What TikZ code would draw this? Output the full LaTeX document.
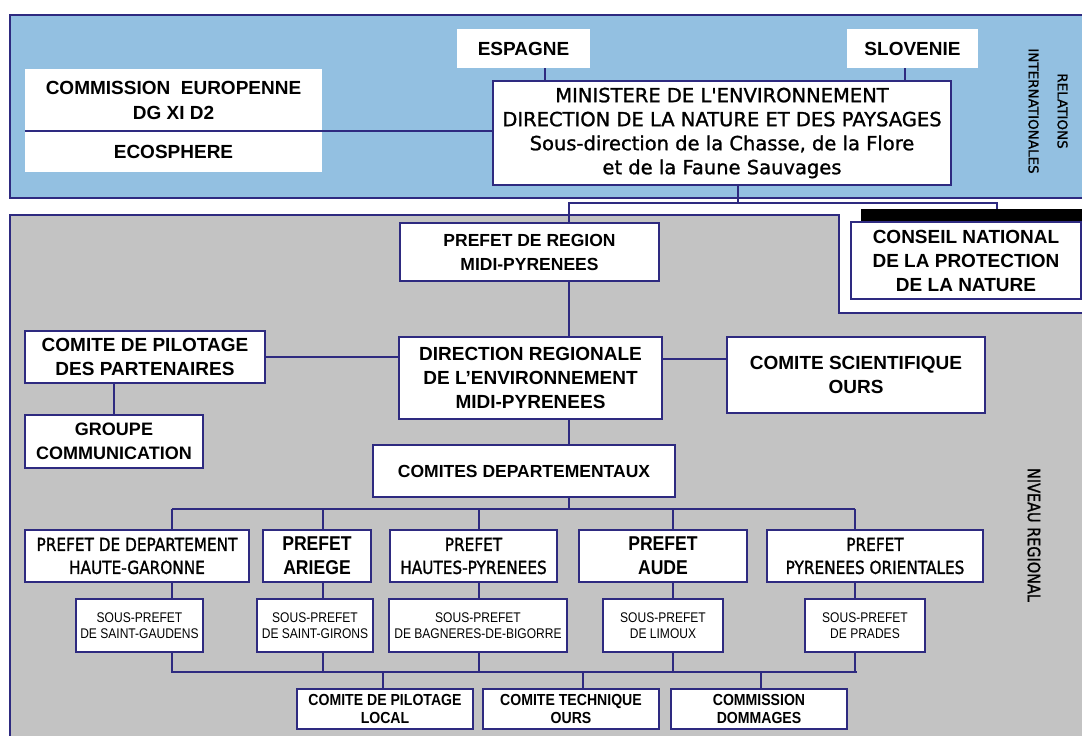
\documentclass[tikz,border=0pt]{standalone}
\usepackage{fontspec}
\setmainfont{Liberation Sans}
\newfontfamily\hum{DejaVu Sans}[FakeBold=1.2]
\newfontfamily\humc{DejaVu Sans}[FakeStretch=0.85,FakeBold=1.2]
\newfontfamily\arialc{Liberation Sans}[FakeStretch=0.86]
\newfontfamily\arialbc{Liberation Sans Bold}[FakeStretch=0.88]
\usetikzlibrary{calc}
\definecolor{navy}{HTML}{2E2A80}
\definecolor{skyfill}{HTML}{93C0E1}
\definecolor{panelgray}{HTML}{C3C3C3}
\begin{document}
\begin{tikzpicture}[x=1pt,y=-1pt,
  conn/.style={draw=navy,line width=1.6pt},
  box/.style={draw=navy,line width=1.6pt,fill=white,inner sep=0pt,align=center,font=\bfseries\fontsize{19}{24}\selectfont},
  plainbox/.style={fill=white,inner sep=0pt,align=center,font=\bfseries\fontsize{19}{25}\selectfont},
  hbox/.style={box,font=\humc\fontsize{18}{23}\selectfont},
  pbox/.style={box,font=\arialbc\fontsize{20}{24}\selectfont},
  sbox/.style={box,font=\arialc\fontsize{14}{16.5}\selectfont},
  bbox/.style={box,font=\arialbc\fontsize{16}{18.5}\selectfont},
  side/.style={rotate=-90,align=center,inner sep=0pt},
]
\clip (0,0) rectangle (1082,736);
\fill[white] (0,0) rectangle (1082,736);
% panels
\draw[fill=skyfill,draw=navy,line width=1.4pt] (10,15) rectangle (1095,198);
\draw[fill=panelgray,draw=navy,line width=1.4pt] (10,215) -- (839,215) -- (839,313) -- (1095,313) -- (1095,745) -- (10,745) -- cycle;

% top level
\node[plainbox,minimum width=133pt,minimum height=39pt] (esp) at (523.5,48.5) {ESPAGNE};
\node[plainbox,minimum width=131pt,minimum height=39pt] (slo) at (912.5,48.5) {SLOVENIE};
\node[plainbox,minimum width=297pt,minimum height=62pt] (ce1) at (173.5,100) {COMMISSION\ \ EUROPENNE\\DG XI D2};
\node[plainbox,minimum width=297pt,minimum height=41pt] (ce2) at (173.5,151.5) {ECOSPHERE};
\node[box,font=\hum\fontsize{19.5}{24}\selectfont,minimum width=458pt,minimum height=104pt] (min) at (722,133)
  {MINISTERE DE L'ENVIRONNEMENT\\DIRECTION DE LA NATURE ET DES PAYSAGES\\Sous-direction de la Chasse, de la Flore\\et de la Faune Sauvages};
\node[side,font=\hum\fontsize{13.5}{29}\selectfont] (rel) at (1048,111) {RELATIONS\\INTERNATIONALES};

% CNPN
\node[fill=black,inner sep=0pt,minimum width=230pt,minimum height=13pt,anchor=north west] (cnbar) at (861,209) {};
\node[box,minimum width=230pt,minimum height=77pt] (cnpn) at (966,260.5) {CONSEIL NATIONAL\\DE LA PROTECTION\\DE LA NATURE};

% regional
\node[box,font=\bfseries\fontsize{17.5}{24}\selectfont,minimum width=259pt,minimum height=58pt] (preg) at (529.5,252) {PREFET DE REGION\\MIDI-PYRENEES};
\node[box,minimum width=263pt,minimum height=82pt] (dreal) at (530.5,378) {DIRECTION REGIONALE\\DE L'ENVIRONNEMENT\\MIDI-PYRENEES};
\node[box,minimum width=240pt,minimum height=52pt] (cpp) at (145,357) {COMITE DE PILOTAGE\\DES PARTENAIRES};
\node[box,font=\bfseries\fontsize{18}{24}\selectfont,minimum width=178pt,minimum height=53pt] (gc) at (114,441.5) {GROUPE\\COMMUNICATION};
\node[box,minimum width=258pt,minimum height=76pt] (cso) at (856,375) {COMITE SCIENTIFIQUE\\OURS};
\node[box,font=\bfseries\fontsize{17.5}{22}\selectfont,minimum width=302pt,minimum height=52pt] (cdep) at (524,471) {COMITES DEPARTEMENTAUX};

% prefets
\node[hbox,minimum width=224pt,minimum height=52pt] (phg) at (137,556) {PREFET DE DEPARTEMENT\\HAUTE-GARONNE};
\node[pbox,minimum width=108pt,minimum height=52pt] (par) at (317,556) {PREFET\\ARIEGE};
\node[hbox,minimum width=167pt,minimum height=52pt] (php) at (473.5,556) {PREFET\\HAUTES-PYRENEES};
\node[pbox,minimum width=168pt,minimum height=52pt] (pau) at (663,556) {PREFET\\AUDE};
\node[hbox,minimum width=216pt,minimum height=52pt] (ppo) at (875,556) {PREFET\\PYRENEES ORIENTALES};

% sous-prefets
\node[sbox,minimum width=127pt,minimum height=53pt] (ssg) at (139.5,625.5) {SOUS-PREFET\\DE SAINT-GAUDENS};
\node[sbox,minimum width=116pt,minimum height=53pt] (ssgi) at (315,625.5) {SOUS-PREFET\\DE SAINT-GIRONS};
\node[sbox,minimum width=178pt,minimum height=53pt] (sbag) at (478,625.5) {SOUS-PREFET\\DE BAGNERES-DE-BIGORRE};
\node[sbox,minimum width=120pt,minimum height=53pt] (slim) at (663,625.5) {SOUS-PREFET\\DE LIMOUX};
\node[sbox,minimum width=120pt,minimum height=53pt] (spra) at (865,625.5) {SOUS-PREFET\\DE PRADES};

% bottom
\node[bbox,minimum width=176pt,minimum height=40pt] (cpl) at (385,709) {COMITE DE PILOTAGE\\LOCAL};
\node[bbox,minimum width=176pt,minimum height=40pt] (cto) at (571,709) {COMITE TECHNIQUE\\OURS};
\node[bbox,minimum width=176pt,minimum height=40pt] (cdom) at (759,709) {COMMISSION\\DOMMAGES};

\node[side,font=\humc\fontsize{17}{18}\selectfont] (niv) at (1034,535) {NIVEAU REGIONAL};

% connectors - top
\draw[conn] (ce1.south west) -- (ce1.south west -| min.west);
\draw[conn] ([xshift=21.5pt]esp.south) -- ([xshift=21.5pt]esp.south |- min.north);
\draw[conn] ([xshift=-7.5pt]slo.south) -- ([xshift=-7.5pt]slo.south |- min.north);
\coordinate (jt) at (738,203);
\coordinate (tbL) at (569,203);
\coordinate (tbR) at (997,203);
\draw[conn] (jt |- min.south) -- (jt);
\draw[conn] (tbL |- preg.north) -- (tbL) -- (tbR) -- (tbR |- cnbar.north);
% spine
\coordinate (b1) at (569,509);
\draw[conn] (tbL |- preg.south) -- (tbL |- dreal.north);
\draw[conn] (tbL |- dreal.south) -- (tbL |- cdep.north);
\draw[conn] (tbL |- cdep.south) -- (b1);
\draw[conn] (cpp.east) -- (cpp.east -| dreal.west);
\draw[conn] ([yshift=16pt]cso.west) -- ([yshift=16pt]cso.west -| dreal.east);
\draw[conn] (gc.north) -- (gc.north |- cpp.south);
% department buses
\coordinate (k1) at (172,509);
\coordinate (k2) at (323,509);
\coordinate (k3) at (479,509);
\coordinate (k4) at (673,509);
\coordinate (k5) at (855,509);
\coordinate (b2L) at (171,672);
\coordinate (b2R) at (857,672);
\draw[conn] (k1) -- (k5);
\draw[conn] (b2L) -- (b2R);
\foreach \k/\p/\s in {k1/phg/ssg,k2/par/ssgi,k3/php/sbag,k4/pau/slim,k5/ppo/spra}{
  \draw[conn] (\k) -- (\k |- \p.north);
  \draw[conn] (\k |- \p.south) -- (\k |- \s.north);
  \draw[conn] (\k |- \s.south) -- (\k |- b2L);
}
\coordinate (m1) at (383,672);
\coordinate (m2) at (583,672);
\coordinate (m3) at (761,672);
\draw[conn] (m1) -- (m1 |- cpl.north);
\draw[conn] (m2) -- (m2 |- cto.north);
\draw[conn] (m3) -- (m3 |- cdom.north);
\end{tikzpicture}
\end{document}
